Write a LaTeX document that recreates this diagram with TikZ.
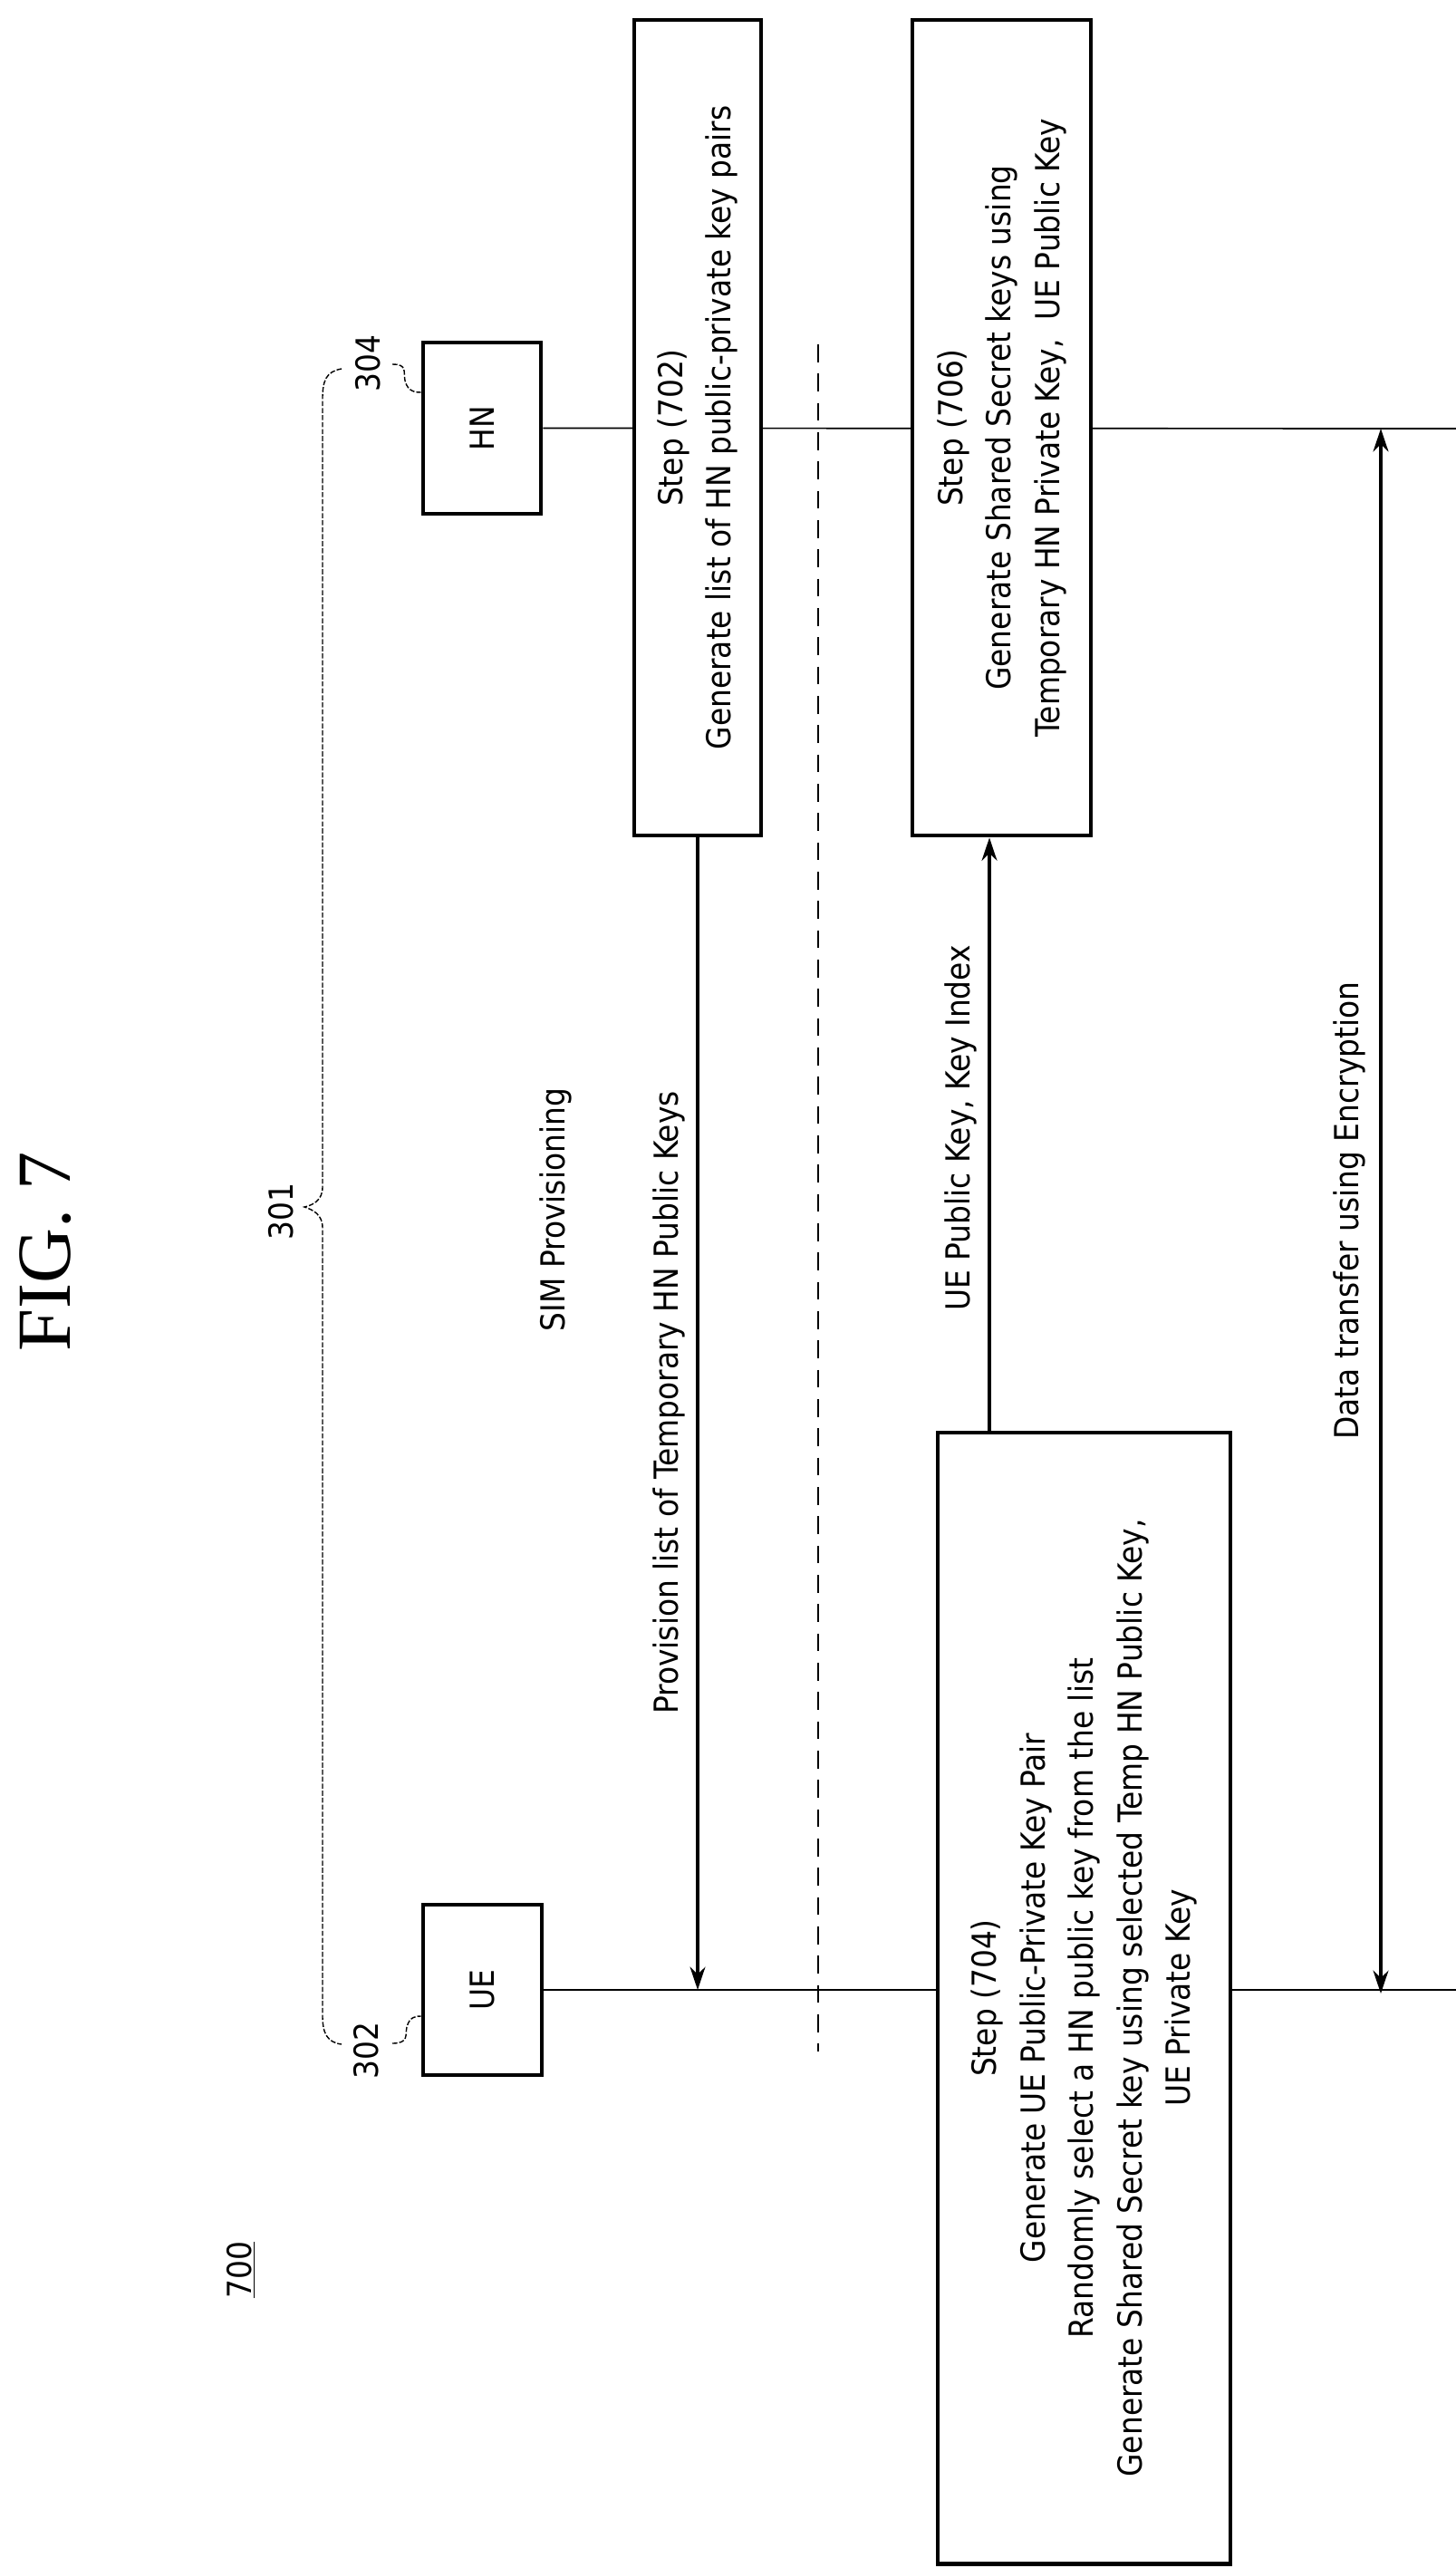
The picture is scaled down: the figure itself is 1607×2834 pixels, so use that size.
\documentclass[tikz,border=0pt]{standalone}
\usepackage{fontspec}
\setmainfont{DejaVu Sans Condensed}
\newfontfamily\figfont{Liberation Serif}
\usetikzlibrary{arrows.meta}
\begin{document}
\begin{tikzpicture}[x=0.25mm,y=-0.25mm,
  txt/.style={rotate=90,align=center,font=\fontsize{26}{38}\selectfont,inner sep=0pt},
  box/.style={rotate=90,draw,line width=3.5pt,fill=white,align=center,font=\fontsize{26}{38}\selectfont,inner sep=0pt},
  life/.style={line width=1.2pt},
  arr/.style={line width=2.5pt,-{Stealth[length=18pt,width=12pt]}},
  darr/.style={line width=2.5pt,{Stealth[length=18pt,width=12pt]}-{Stealth[length=18pt,width=12pt]}},
  lead/.style={line width=1pt,dash pattern=on 4pt off 1.5pt}]
\useasboundingbox (0,0) rectangle (1607,2834);
% coordinates on lifelines
\coordinate (hnEnd) at (1607,473);
\coordinate (ueEnd) at (1607,2196);
\coordinate (ueL) at (770,2196);
\coordinate (k1) at (1092,1581);
\coordinate (dA) at (1524,473);
\coordinate (dB) at (1524,2200);
% entities
\node[box,minimum width=47.25mm,minimum height=32.5mm] (hn) at (532,472.5) {HN};
\node[box,minimum width=47mm,minimum height=32.75mm] (ue) at (532.5,2196) {UE};
\draw[life] (hn.south) -- (hnEnd);
\draw[life] (ue.south) -- (ueEnd);
% boxes
\node[box,minimum width=225mm,minimum height=35mm] (s702) at (770,472) {Step (702)\\Generate list of HN public-private key pairs};
\node[box,minimum width=225mm,minimum height=49.25mm] (s706) at (1105.5,472) {Step (706)\\Generate Shared Secret keys using\\Temporary HN Private Key,\ \ UE Public Key};
\node[box,minimum width=312mm,minimum height=80.75mm] (s704) at (1196.5,2205) {Step (704)\\Generate UE Public-Private Key Pair\\Randomly select a HN public key from the list\\Generate Shared Secret key using selected Temp HN Public Key,\\UE Private Key};
% separator
\coordinate (sepA) at (903,380);
\coordinate (sepB) at (903,2264);
\draw[line width=1.5pt,dash pattern=on 14pt off 9pt] (sepA) -- (sepB);
% messages
\draw[arr] (s702.west) -- (s702.west |- ueL);
\node[txt] (m1) at (738,1548) {Provision list of Temporary HN Public Keys};
\draw[arr] (k1) -- (k1 |- s706.west);
\node[txt] (m2) at (1060,1245) {UE Public Key, Key Index};
\draw[darr] (dA) -- (dB);
\node[txt] (m3) at (1489,1336) {Data transfer using Encryption};
\node[txt] (sim) at (613,1335) {SIM Provisioning};
% labels
\node[rotate=90,font=\figfont\fontsize{60}{60}\selectfont,inner sep=0pt] (fig) at (50,1381) {FIG. 7};
\node[txt] (l700) at (266,2505) {\underline{700}};
\node[txt] (l301) at (310,1337) {301};
\node[txt] (l304) at (406,401) {304};
\node[txt] (l302) at (404,2263) {302};
\coordinate (b1) at (377,407);
\coordinate (b2) at (377,2256);
\coordinate (bt) at (336,1332);
\draw[lead] (b1) .. controls (360,410) and (356,420) .. (356,440) -- (356,1310) .. controls (356,1325) and (345,1330) .. (bt) .. controls (345,1335) and (356,1340) .. (356,1355) -- (356,2225) .. controls (356,2245) and (362,2254) .. (b2);
\draw[lead] (433,402) .. controls (450,402) and (445,410) .. (447,420) .. controls (450,433) and (460,433) .. (hn.north |- 0,433);
\draw[lead] (433,2255) .. controls (452,2255) and (447,2245) .. (449,2237) .. controls (452,2225) and (460,2225) .. (ue.north |- 0,2225);
\end{tikzpicture}
\end{document}
